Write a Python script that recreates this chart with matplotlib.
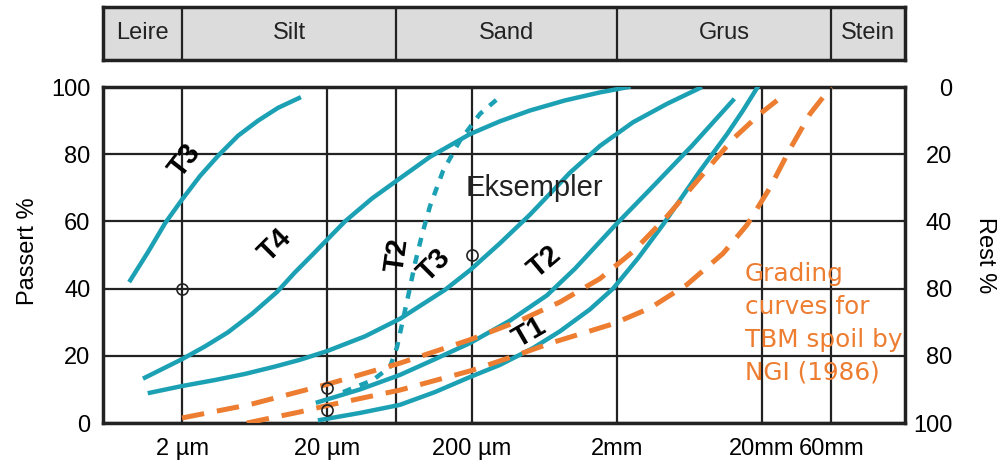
import matplotlib
matplotlib.use("Agg")
import matplotlib.pyplot as plt
from matplotlib.ticker import FixedLocator, NullFormatter

plt.rcParams['font.family'] = ['Liberation Sans', 'DejaVu Sans']

# grain size classes shown in the band above the chart (sizes in mm)
band_names = ["Leire", "Silt", "Sand", "Grus", "Stein"]
band_edges = [0.00057, 0.002, 0.06, 2, 60, 194]

# example grading curves: grain size (mm) vs. passing (%)
t3_fine_d = [0.00088, 0.00117, 0.00153, 0.002, 0.00266, 0.00354, 0.00487, 0.0067, 0.00919, 0.0128]
t3_fine_p = [42.5, 51, 59.5, 66.5, 73.5, 79.5, 85.5, 90, 93.8, 96.7]

t4_d = [0.00111, 0.002, 0.00288, 0.00415, 0.00608, 0.00904, 0.012, 0.0158, 0.0266, 0.0408,
        0.0636, 0.1026, 0.194, 0.312, 0.502, 0.875, 1.53, 2.4]
t4_p = [13.5, 19, 22.8, 27, 32.5, 39, 44.8, 50, 60, 66.8, 72.8, 79.2, 86, 89.8, 93, 96, 98.4, 100]

t3_d = [0.0012, 0.002, 0.00338, 0.00543, 0.00875, 0.013, 0.02, 0.0366, 0.0636, 0.13, 0.194,
        0.312, 0.502, 0.948, 1.53, 2.58, 4.43, 7.47]
t3_p = [9, 11, 12.8, 14.6, 16.8, 18.8, 21.4, 25.8, 31, 39.6, 45.5, 53.5, 62, 74.5, 82.5, 89.5, 95, 99.7]

t2_d = [0.0173, 0.0338, 0.0636, 0.111, 0.194, 0.366, 0.658, 1.03, 1.53, 1.94, 3.38, 6.58, 12.6]
t2_p = [6.2, 10, 14.3, 19, 23.8, 30.5, 38, 46, 54, 58.8, 69.5, 82.5, 96]

t1_d = [0.0179, 0.0338, 0.0636, 0.111, 0.194, 0.312, 0.527, 0.809, 1.30, 1.88, 2.79, 4.15,
        7.47, 11.5, 14.8, 18.5]
t1_p = [0.9, 3, 5.4, 9.2, 13.7, 17.3, 22.3, 27.3, 33.8, 40, 49, 59, 75, 86, 93, 99.7]

t2b_d = [0.0258, 0.0415, 0.0544, 0.0608, 0.0668, 0.0736, 0.0809, 0.0904, 0.1026, 0.1262,
         0.165, 0.227, 0.322]
t2b_p = [9.2, 12.8, 16.7, 22.6, 30.7, 39, 47.5, 56, 64.5, 75, 84, 92, 97.6]

# NGI (1986) envelope for TBM spoil
ngi_upper_d = [0.002, 0.00589, 0.02, 0.0636, 0.194, 0.429, 0.809, 1.53, 2.58, 4.43, 7.47,
               12.6, 19.4, 25.4]
ngi_upper_p = [1.5, 5.5, 11.5, 17.8, 24.8, 30.5, 36, 43, 51, 61.5, 73, 84.5, 92, 96]

ngi_lower_d = [0.0056, 0.013, 0.02, 0.0636, 0.194, 0.366, 0.724, 1.88, 3.38, 6.08, 10.8,
               15.8, 22.7, 31.2, 42.9, 60]
ngi_lower_p = [0, 3.3, 5.2, 9.8, 15.5, 19.5, 24, 29.5, 34.2, 41.2, 50.5, 59, 70, 81.5, 92, 100]

# d-markers on the curves
marker_d = [0.002, 0.02, 0.02, 0.2]
marker_p = [40, 10.5, 4, 50]

x_ticks = [0.002, 0.02, 0.2, 2, 20, 60]
x_labels = ["2 µm", "20 µm", "200 µm", "2mm", "20mm", "60mm"]
y_ticks = [0, 20, 40, 60, 80, 100]
rest_labels = ["0", "20", "40", "80", "80", "100"]

teal = '#1ca1b4'
orange = '#ed7d31'

fig = plt.figure(figsize=(10, 4.65), dpi=100)
ax = fig.add_axes([0.103, 0.0903, 0.802, 0.7226])

ax.set_xscale('log')
ax.set_xlim(band_edges[0], band_edges[-1])
ax.set_ylim(0, 100)

ax.xaxis.set_major_locator(FixedLocator(x_ticks))
ax.xaxis.set_minor_locator(FixedLocator([0.06]))
ax.xaxis.set_minor_formatter(NullFormatter())
ax.set_xticklabels(x_labels)
ax.set_yticks(y_ticks)
ax.grid(True, which='both', color='#222222', linewidth=1.6)
ax.tick_params(which='both', length=0, labelsize=17, pad=9)
ax.tick_params(axis='x', pad=11)
for s in ax.spines.values():
    s.set_linewidth(2.5)
    s.set_color('#222222')

# solid example curves
for d, p in [(t3_fine_d, t3_fine_p), (t4_d, t4_p), (t3_d, t3_p), (t2_d, t2_p), (t1_d, t1_p)]:
    ax.plot(d, p, color=teal, linewidth=3.2, solid_joinstyle='round', zorder=3)
ax.plot(t2b_d, t2b_p, color=teal, linewidth=3.2, dashes=(2, 2), zorder=3)

for d, p in [(ngi_upper_d, ngi_upper_p), (ngi_lower_d, ngi_lower_p)]:
    ax.plot(d, p, color=orange, linewidth=3.6, dashes=(4.5, 2.6), zorder=4)

ax.plot(marker_d, marker_p, 'o', markersize=8, markerfacecolor='none',
        markeredgecolor='#222222', markeredgewidth=1.2, zorder=5)

# curve names
labels = [("T3", 0.0021, 78, 52), ("T4", 0.0088, 53, 45), ("T2", 0.061, 50, 82),
          ("T3", 0.11, 47, 45), ("T2", 0.63, 48, 40), ("T1", 0.5, 27, 30)]
for txt, x, y, rot in labels:
    ax.text(x, y, txt, fontsize=21, fontweight='bold', rotation=rot,
            ha='center', va='center', zorder=6)

ax.text(0.54, 70, "Eksempler", fontsize=21, ha='center', va='center', color='#222222')
ax.text(15.3, 48, "Grading\ncurves for\nTBM spoil by\nNGI (1986)", fontsize=17.8,
        color=orange, family='DejaVu Sans', ha='left', va='top', linespacing=1.47)

fig.text(0.028, 0.46, "Passert %", rotation=90, fontsize=17, ha='center', va='center')

# right-hand scale: retained percentage
ax2 = ax.twinx()
ax2.set_ylim(100, 0)
ax2.set_yticks(y_ticks)
ax2.set_yticklabels(rest_labels)
ax2.tick_params(length=0, labelsize=17, pad=34)
for lbl in ax2.get_yticklabels():
    lbl.set_horizontalalignment('right')
for s in ax2.spines.values():
    s.set_visible(False)
fig.text(0.985, 0.452, "Rest %", rotation=-90, fontsize=17, ha='center', va='center')

# soil class band
band = fig.add_axes([0.103, 0.871, 0.802, 0.114])
band.set_xscale('log')
band.set_xlim(band_edges[0], band_edges[-1])
band.set_ylim(0, 1)
band.set_facecolor('#dcdcdc')
band.set_xticks([])
band.set_yticks([])
band.minorticks_off()
for s in band.spines.values():
    s.set_linewidth(2.5)
    s.set_color('#222222')
for i, name in enumerate(band_names):
    lo, hi = band_edges[i], band_edges[i + 1]
    band.text((lo * hi) ** 0.5, 0.5, name, fontsize=17, ha='center', va='center', color='#222222')
    if i > 0:
        band.axvline(lo, color='#222222', linewidth=1.6)

fig.savefig("out.png", dpi=100)
